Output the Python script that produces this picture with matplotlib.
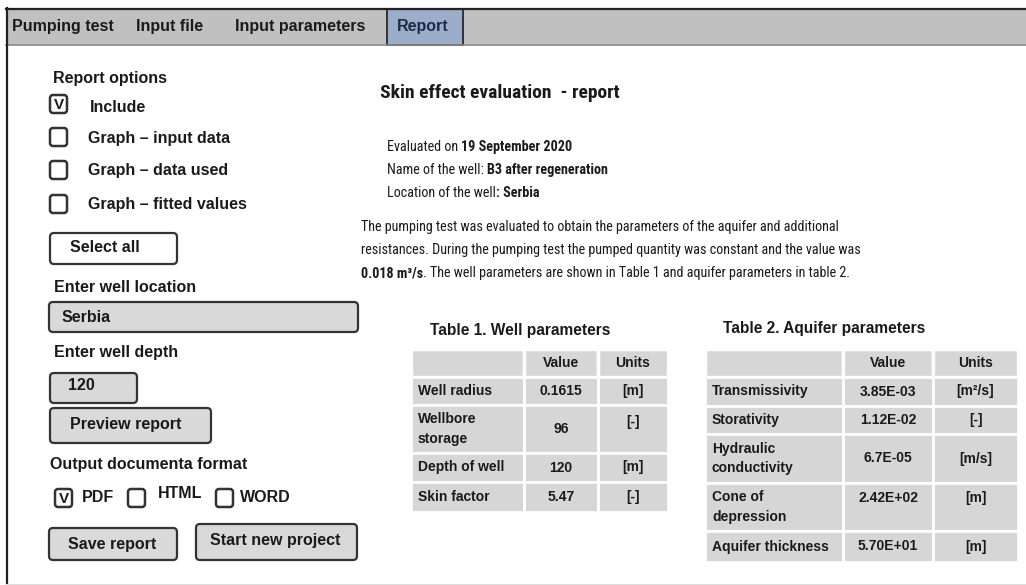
import matplotlib.pyplot as plt
from matplotlib.patches import Rectangle, FancyBboxPatch
from matplotlib import font_manager

# --- content -------------------------------------------------------------
tabs = ["Pumping test", "Input file", "Input parameters"]
active_tab = "Report"

report_options = ["Include", "Graph \u2013 input data", "Graph \u2013 data used",
                  "Graph \u2013 fitted values"]
report_checked = [True, False, False, False]

well_location = "Serbia"
well_depth = "120"

formats = ["PDF", "HTML", "WORD"]
formats_checked = [True, False, False]

title = "Skin effect evaluation  - report"
eval_date = "19 September 2020"
well_name = "B3 after regeneration"

t1_title = "Table 1. Well parameters"
t1_rows = ["Well radius", "Wellbore\nstorage", "Depth of well", "Skin factor"]
t1_values = ["0.1615", "96", "120", "5.47"]
t1_units = ["[m]", "[-]", "[m]", "[-]"]

t2_title = "Table 2. Aquifer parameters"
t2_rows = ["Transmissivity", "Storativity", "Hydraulic\nconductivity",
           "Cone of\ndepression", "Aquifer thickness"]
t2_values = ["3.85E-03", "1.12E-02", "6.7E-05", "2.42E+02", "5.70E+01"]
t2_units = ["[m\u00b2/s]", "[-]", "[m/s]", "[m]", "[m]"]

SANS = "Liberation Sans"
DARK = "#1a1a1a"
GREY = "#d9d9d9"

# narrow face for the report body if one is installed
installed = {f.name for f in font_manager.fontManager.ttflist}
NARROW, BODY_SIZE, TITLE_SIZE = SANS, 9, 12.2
for name in ["Roboto Condensed", "Liberation Sans Narrow", "Arial Narrow"]:
    if name in installed:
        NARROW, BODY_SIZE, TITLE_SIZE = name, 10.2, 14
        break

fig = plt.figure(figsize=(10.26, 5.85), dpi=100)
ax = fig.add_axes([0, 0, 1, 1])
ax.set_xlim(0, 1026)
ax.set_ylim(585, 0)
ax.axis("off")


def label(x, y, s, size=11.5, weight="bold", color=DARK, family=SANS, **kw):
    return ax.text(x, y, s, fontsize=size, fontweight=weight, family=family,
                   color=color, va="center", ha=kw.pop("ha", "left"), **kw)


def rich(x, y, parts, size=BODY_SIZE):
    # consecutive runs of regular / bold text on one line
    t = ax.text(x, y, parts[0][0], fontsize=size, fontweight=parts[0][1],
                family=NARROW, color=DARK, va="center")
    for s, w in parts[1:]:
        t = ax.annotate(s, xy=(1, 0), xycoords=t, va="bottom", ha="left",
                        fontsize=size, fontweight=w, family=NARROW, color=DARK)
    return t


def box(x0, y0, x1, y1, fc="white", lw=1.6, r=4):
    ax.add_patch(FancyBboxPatch((x0, y0), x1 - x0, y1 - y0,
                                boxstyle=f"round,pad=0,rounding_size={r}",
                                fc=fc, ec="#333333", lw=lw))


def checkbox(x, y, checked):
    box(x, y - 9, x + 17, y + 9, lw=1.8, r=3)
    if checked:
        ax.text(x + 8.5, y + 1, "V", fontsize=11, fontweight="bold",
                family=SANS, color=DARK, ha="center", va="center")


# --- top bar -------------------------------------------------------------
ax.add_patch(Rectangle((6, 8), 1020, 37, fc="#c0c0c0", ec="none"))
ax.plot([6, 1026], [8.5, 8.5], color="#222222", lw=1.6)
ax.plot([6, 1026], [45, 45], color="#8a8a8a", lw=1.2)
ax.plot([6.5, 6.5], [8, 585], color="#222222", lw=1.6)
ax.plot([6, 1026], [584, 584], color="#dddddd", lw=0.8)
for tx, s in zip([12, 136, 235], tabs):
    label(tx, 27, s)
ax.add_patch(Rectangle((387, 9), 76, 36, fc="#9badc8", ec="#333333", lw=1.4))
label(397, 27, active_tab, color="#1f2a44")

# --- left panel ----------------------------------------------------------
label(53, 78, "Report options")
for i, (s, c) in enumerate(zip(report_options, report_checked)):
    y = [104, 137, 170, 204][i]
    checkbox(50, y, c)
    label(90 if i == 0 else 88, y + (4 if i == 0 else 1), s)

box(50, 233, 177, 264)
label(70, 248, "Select all")
label(54, 287, "Enter well location")
box(49, 302, 358, 332, fc=GREY)
label(62, 317, well_location)
label(54, 352, "Enter well depth")
box(50, 373, 137, 403, fc=GREY)
label(68, 386, well_depth)
box(50, 408, 211, 443, fc=GREY)
label(70, 425, "Preview report")
label(50, 465, "Output documenta format")
for bx, tx, s, c, dy in zip([55, 128, 216], [82, 158, 240], formats,
                            formats_checked, [0, -3, 1]):
    checkbox(bx, 498, c)
    label(tx, 497 + dy, s)
box(49, 528, 177, 560, fc=GREY)
label(68, 544, "Save report")
box(196, 524, 357, 560, fc=GREY)
label(210, 541, "Start new project")

# --- report text ---------------------------------------------------------
label(380, 93, title, size=TITLE_SIZE, family=NARROW)
rich(387, 147, [("Evaluated on ", "normal"), (eval_date, "bold")])
rich(387, 170, [("Name of the well: ", "normal"), (well_name, "bold")])
rich(387, 193, [("Location of the well", "normal"), (": " + well_location, "bold")])
rich(361, 227, [("The pumping test was evaluated to obtain the parameters of the "
                 "aquifer and additional", "normal")])
rich(361, 250, [("resistances. During the pumping test the pumped quantity was "
                 "constant and the value was", "normal")])
rich(361, 273, [("0.018 m\u00b3/s", "bold"),
                (". The well parameters are shown in Table 1 and aquifer "
                 "parameters in table 2.", "normal")])


# --- tables --------------------------------------------------------------
def table(x_edges, y_edges, rows, values, units, vshift, ushift):
    cols = list(zip(x_edges[:-1], x_edges[1:]))
    for j, (y0, y1) in enumerate(zip(y_edges[:-1], y_edges[1:])):
        for x0, x1 in cols:
            ax.add_patch(Rectangle((x0, y0), x1 - x0, y1 - y0, fc="#d6d6d6",
                                   ec="white", lw=2 if j else 2.5))
    yh = (y_edges[0] + y_edges[1]) / 2
    label((cols[1][0] + cols[1][1]) / 2, yh, "Value", size=10, ha="center")
    label((cols[2][0] + cols[2][1]) / 2, yh, "Units", size=10, ha="center")
    for j, (r, v, u) in enumerate(zip(rows, values, units)):
        ym = (y_edges[j + 1] + y_edges[j + 2]) / 2
        label(x_edges[0] + 7, ym, r, size=10, linespacing=1.5)
        label((cols[1][0] + cols[1][1]) / 2, ym + vshift[j], v, size=10,
              ha="center")
        label((cols[2][0] + cols[2][1]) / 2, ym + ushift[j], u, size=10,
              ha="center")


label(430, 331, t1_title, size=11.2)
table([411, 524, 598, 668], [349, 377, 405, 453, 482, 512],
      t1_rows, t1_values, t1_units, [0, 0, 0, 0], [0, -7, 0, 0])

label(723, 328, t2_title, size=11.2)
table([705, 843, 933, 1018], [349, 377, 406, 434, 483, 531, 562],
      t2_rows, t2_values, t2_units, [0, 0, 0, -9, 0], [0, 0, 0, -9, 0])

fig.savefig("out.png", dpi=100)
